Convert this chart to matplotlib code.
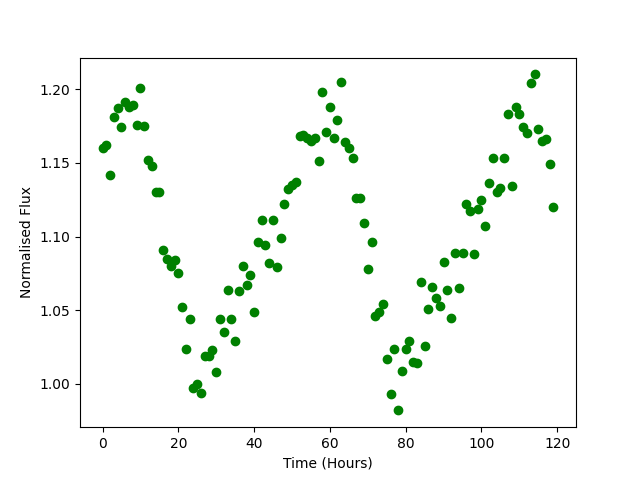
import matplotlib
matplotlib.use("Agg")
import matplotlib.pyplot as plt

time = list(range(120))
flux = [
    1.160, 1.162, 1.142, 1.181, 1.187, 1.174, 1.191, 1.188, 1.189, 1.176,
    1.201, 1.175, 1.152, 1.148, 1.130, 1.130, 1.091, 1.085, 1.080, 1.084,
    1.075, 1.052, 1.024, 1.044, 0.997, 1.000, 0.994, 1.019, 1.019, 1.023,
    1.008, 1.044, 1.035, 1.064, 1.044, 1.029, 1.063, 1.080, 1.067, 1.074,
    1.049, 1.096, 1.111, 1.094, 1.082, 1.111, 1.079, 1.099, 1.122, 1.132,
    1.135, 1.137, 1.168, 1.169, 1.167, 1.165, 1.167, 1.151, 1.198, 1.171,
    1.188, 1.167, 1.179, 1.205, 1.164, 1.160, 1.153, 1.126, 1.126, 1.109,
    1.078, 1.096, 1.046, 1.049, 1.054, 1.017, 0.993, 1.024, 0.982, 1.009,
    1.024, 1.029, 1.015, 1.014, 1.069, 1.026, 1.051, 1.066, 1.058, 1.053,
    1.083, 1.064, 1.045, 1.089, 1.065, 1.089, 1.122, 1.117, 1.088, 1.119,
    1.125, 1.107, 1.136, 1.153, 1.130, 1.133, 1.153, 1.183, 1.134, 1.188,
    1.183, 1.174, 1.170, 1.204, 1.210, 1.173, 1.165, 1.166, 1.149, 1.120,
]

plt.plot(time, flux, 'o', color='green')
plt.xlabel("Time (Hours)")
plt.ylabel("Normalised Flux")
plt.savefig('out.png')
plt.close()
